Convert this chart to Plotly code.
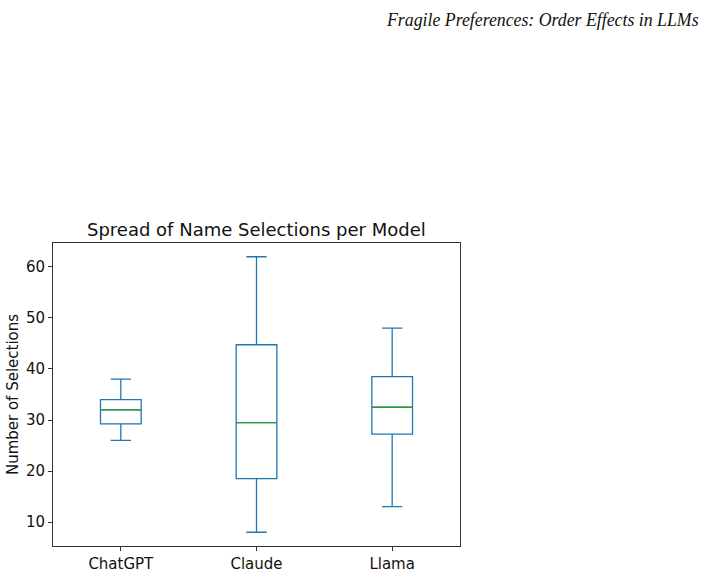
import plotly.graph_objects as go

models = ["ChatGPT", "Claude", "Llama"]
lower_whisker = [26, 8, 13]
q1 = [29.25, 18.5, 27.25]
median = [32, 29.5, 32.5]
q3 = [34, 44.75, 38.5]
upper_whisker = [38, 62, 48]

BLUE = "#1f77b4"
GREEN = "#2ca02c"
BOX_W = 0.3

pos = list(range(len(models)))

fig = go.Figure()
fig.add_trace(go.Box(
    x=pos, q1=q1, median=median, q3=q3,
    lowerfence=lower_whisker, upperfence=upper_whisker,
    width=BOX_W, whiskerwidth=0.5,
    fillcolor="rgba(0,0,0,0)",
    line=dict(color=BLUE, width=1.3),
    boxpoints=False, showlegend=False, hoverinfo="skip",
))
# green median lines (matplotlib style)
for p, m in zip(pos, median):
    fig.add_trace(go.Scatter(
        x=[p - BOX_W / 2, p + BOX_W / 2], y=[m, m], mode="lines",
        line=dict(color=GREEN, width=1.3), showlegend=False, hoverinfo="skip",
    ))

font = "DejaVu Sans"
fig.update_layout(
    width=707, height=573,
    margin=dict(l=53, r=247, t=243, b=27),
    paper_bgcolor="white", plot_bgcolor="white",
    font=dict(family=font, size=15, color="#111"),
    xaxis=dict(range=[-0.5, 2.5], tickvals=pos, ticktext=models, automargin=False,
               showgrid=False, zeroline=False, showline=True, mirror=True,
               linecolor="#333", linewidth=1, ticks="outside", ticklen=4,
               tickcolor="#333", tickfont=dict(size=15, color="#111")),
    yaxis=dict(range=[5.3, 64.7], tickvals=[10, 20, 30, 40, 50, 60], automargin=False,
               showgrid=False, zeroline=False, showline=True, mirror=True,
               linecolor="#333", linewidth=1, ticks="outside", ticklen=4,
               tickcolor="#333", tickfont=dict(size=15, color="#111"),
               title=dict(text="Number of Selections", font=dict(size=15, color="#111"), standoff=3)),
    annotations=[
        dict(text="Spread of Name Selections per Model", xref="paper", yref="paper",
             x=0.5, y=1, xanchor="center", yanchor="bottom", yshift=1,
             showarrow=False, font=dict(family=font, size=18, color="#111")),
        dict(text="<i>Fragile Preferences: Order Effects in LLMs</i>", xref="paper", yref="paper",
             x=(701 - 53) / 407, y=(546 - 20) / 303, xanchor="right", yanchor="middle",
             showarrow=False, font=dict(family="Liberation Serif", size=17.8, color="#111")),
    ],
)

fig.write_html("out.html")
